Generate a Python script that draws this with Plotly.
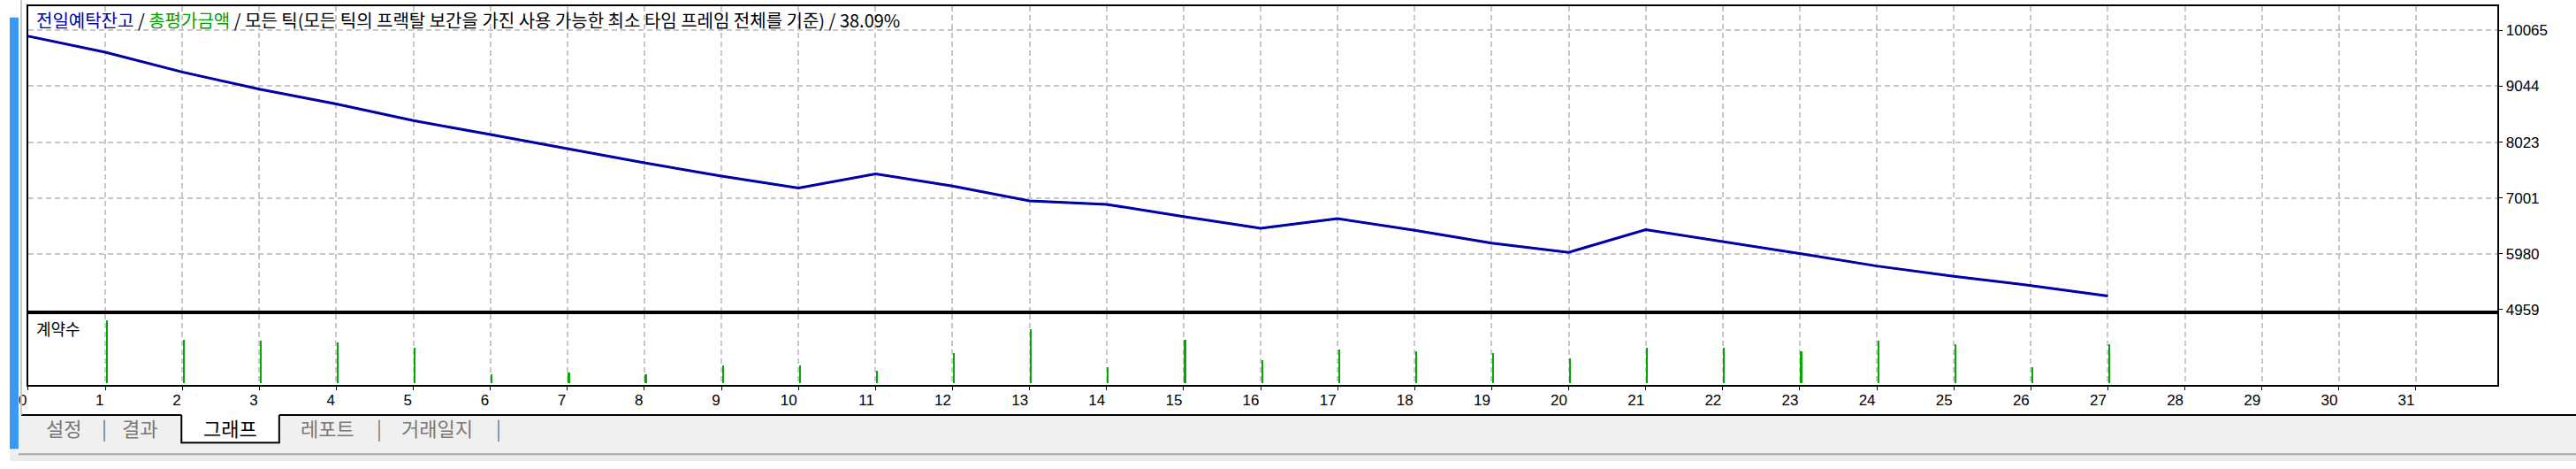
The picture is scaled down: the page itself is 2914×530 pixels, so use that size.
import plotly.graph_objects as go

# ---------------- data ----------------
trade_no = list(range(0, 28))
balance = [9960, 9666, 9304, 8991, 8719, 8416, 8161, 7900, 7645, 7400,
           7182, 7443, 7219, 6950, 6885, 6661, 6448, 6624, 6411, 6177,
           6007, 6422, 6209, 5985, 5757, 5570, 5400, 5209]
equity = [9960, 9666, 9304, 8991, 8719, 8416, 8161, 7900, 7645, 7400,
          7182, 7443, 7219, 6950, 6885, 6661, 6448, 6624, 6411, 6177,
          6007, 6422, 6209, 5985, 5757, 5570, 5400, 5209]
lot_trade_no = list(range(1, 28))
lots = [0.36, 0.25, 0.24, 0.23, 0.20, 0.05, 0.06, 0.05, 0.10, 0.10,
        0.07, 0.17, 0.31, 0.09, 0.25, 0.13, 0.19, 0.18, 0.17, 0.14,
        0.20, 0.20, 0.18, 0.24, 0.22, 0.09, 0.22]
y_tick_vals = [4959, 5980, 7001, 8023, 9044, 10065]
y_tick_text = ["4959", "5980", "7001", "8023", "9044", "10065"]
x_tick_vals = list(range(0, 32))

title_balance = "전일예탁잔고"
title_equity = "총평가금액"
title_rest = " / 모든 틱(모든 틱의 프랙탈 보간을 가진 사용 가능한 최소 타임 프레임 전체를 기준) / 38.09%"
volume_label = "계약수"
tabs = ["설정", "|", "결과", "그래프", "레포트", "|", "거래일지", "|"]
tab_centers = [61, 107, 148, 250, 361, 420, 485, 555]

# ---------------- geometry helpers ----------------
W, H = 2914, 530
def px(x):
    return x / W
def py(y):
    return 1 - y / H

BLUE = "rgb(0,0,170)"
GREEN = "rgb(0,170,0)"
GRID = "rgb(200,200,200)"
TICKFONT = dict(family="Liberation Sans, Arial, sans-serif", size=17, color="black")
KFONT = "Noto Sans CJK KR, sans-serif"

fig = go.Figure()

fig.add_trace(go.Scatter(x=trade_no, y=equity, mode="lines",
                         line=dict(color=GREEN, width=2), xaxis="x", yaxis="y",
                         hoverinfo="skip", showlegend=False))
fig.add_trace(go.Scatter(x=trade_no, y=balance, mode="lines",
                         line=dict(color=BLUE, width=3), xaxis="x", yaxis="y",
                         showlegend=False))
fig.add_trace(go.Bar(x=lot_trade_no, y=lots, width=0.025, offset=0.005,
                     marker=dict(color=GREEN, line=dict(width=0)),
                     xaxis="x2", yaxis="y2", showlegend=False))

x_common = dict(domain=[px(21), px(2825)], range=[0, 32.06], tickvals=x_tick_vals,
                showgrid=True, gridcolor=GRID, gridwidth=2, griddash="6px,4px",
                showline=True, mirror=True, linecolor="black", linewidth=2,
                zeroline=False)

fig.update_layout(
    width=W, height=H,
    margin=dict(l=0, r=0, t=0, b=0),
    paper_bgcolor="white", plot_bgcolor="white",
    bargap=0, hovermode=False,
    xaxis=dict(**x_common, anchor="y", showticklabels=False, ticks=""),
    yaxis=dict(domain=[py(357), py(7)], range=[4943, 10510], side="right",
               tickvals=y_tick_vals, ticktext=y_tick_text,
               ticks="outside", ticklen=4, tickwidth=1,
               tickcolor="black", tickfont=TICKFONT,
               showgrid=True, gridcolor=GRID, gridwidth=2, griddash="6px,4px",
               showline=True, mirror=True, linecolor="black", linewidth=2,
               zeroline=False),
    xaxis2=dict(**x_common, anchor="y2", ticks="outside", ticklen=4, tickwidth=1,
                tickcolor="black", tickfont=TICKFONT,
                ticklabelposition="outside left"),
    yaxis2=dict(domain=[py(443), py(361)], range=[-0.015, 0.395],
                showticklabels=False, ticks="", showgrid=False,
                showline=True, mirror=True, linecolor="black", linewidth=2,
                zeroline=False),
)

shapes = []
# grey tab area
shapes.append(dict(type="rect", xref="paper", yref="paper", x0=0, x1=1,
                   y0=py(530), y1=py(477), fillcolor="rgb(240,240,240)",
                   line=dict(width=0), layer="below"))
shapes.append(dict(type="rect", xref="paper", yref="paper", x0=0, x1=1,
                   y0=py(530), y1=py(523), fillcolor="rgb(235,235,235)",
                   line=dict(width=0), layer="below"))
shapes.append(dict(type="line", xref="paper", yref="paper", x0=px(10), x1=1,
                   y0=py(522), y1=py(522), line=dict(color="rgb(165,165,165)", width=2)))
# selected tab
shapes.append(dict(type="rect", xref="paper", yref="paper", x0=px(195), x1=px(306),
                   y0=py(509), y1=py(477), fillcolor="white", line=dict(width=0)))
shapes.append(dict(type="line", xref="paper", yref="paper", x0=px(13), x1=px(195),
                   y0=py(477), y1=py(477), line=dict(color="black", width=2)))
shapes.append(dict(type="line", xref="paper", yref="paper", x0=px(306), x1=1,
                   y0=py(477), y1=py(477), line=dict(color="black", width=2)))
shapes.append(dict(type="path", xref="paper", yref="paper",
                   path=f"M {px(195)},{py(477)} L {px(195)},{py(509)} L {px(306)},{py(509)} L {px(306)},{py(477)}",
                   line=dict(color="black", width=2)))
# left blue strip and thin grey line
shapes.append(dict(type="rect", xref="paper", yref="paper", x0=0, x1=px(10),
                   y0=py(516), y1=py(20), fillcolor="rgb(58,152,245)",
                   line=dict(width=0)))
shapes.append(dict(type="line", xref="paper", yref="paper", x0=px(13), x1=px(13),
                   y0=py(477), y1=py(0), line=dict(color="rgb(200,200,200)", width=2)))
fig.update_layout(shapes=shapes)

annotations = []
annotations.append(dict(
    xref="paper", yref="paper", x=px(28), y=py(23), xanchor="left", yanchor="middle",
    showarrow=False,
    text=f'<span style="color:{BLUE}">{title_balance}</span> / '
         f'<span style="color:rgb(0,160,0)">{title_equity}</span>{title_rest}',
    font=dict(family=KFONT, size=20, color="black")))
annotations.append(dict(
    xref="paper", yref="paper", x=px(28), y=py(377), xanchor="left", yanchor="middle",
    showarrow=False, text=volume_label,
    font=dict(family=KFONT, size=18, color="black")))
for t, c in zip(tabs, tab_centers):
    col = "black" if t == "그래프" else "rgb(120,120,120)"
    annotations.append(dict(
        xref="paper", yref="paper", x=px(c), y=py(491), xanchor="center",
        yanchor="middle", showarrow=False, text=t,
        font=dict(family=KFONT, size=22, color=col)))
fig.update_layout(annotations=annotations)

fig.write_html("out.html", config={"displayModeBar": False},
               post_script="document.body.style.margin='0';")
